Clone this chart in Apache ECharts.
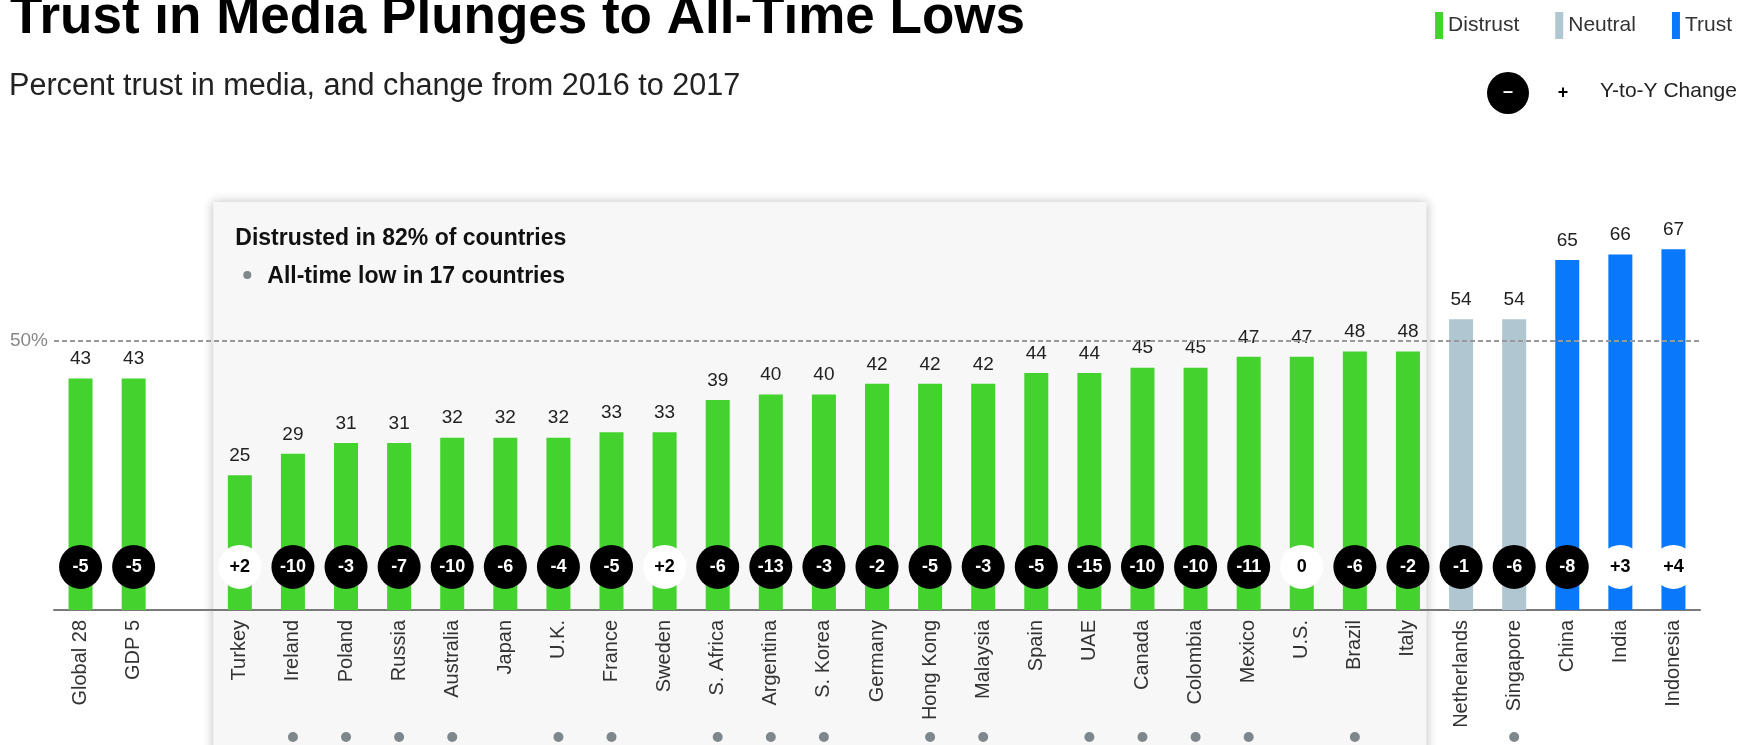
<!DOCTYPE html>
<html>
<head>
<meta charset="utf-8">
<script src="https://cdn.jsdelivr.net/npm/echarts@6/dist/echarts.min.js"></script>
<style>
html,body{margin:0;padding:0;background:#fff;}
#chart{width:1756px;height:745px;}
</style>
</head>
<body>
<div id="chart"></div>
<script>
// ---- data ----
const categories = ['Global 28','GDP 5','','Turkey','Ireland','Poland','Russia','Australia','Japan','U.K.','France','Sweden','S. Africa','Argentina','S. Korea','Germany','Hong Kong','Malaysia','Spain','UAE','Canada','Colombia','Mexico','U.S.','Brazil','Italy','Netherlands','Singapore','China','India','Indonesia'];
const trustValues = [43,43,null,25,29,31,31,32,32,32,33,33,39,40,40,42,42,42,44,44,45,45,47,47,48,48,54,54,65,66,67];
const changeValues = [-5,-5,null,2,-10,-3,-7,-10,-6,-4,-5,2,-6,-13,-3,-2,-5,-3,-5,-15,-10,-10,-11,0,-6,-2,-1,-6,-8,3,4];
const allTimeLow = ['Ireland','Poland','Russia','Australia','U.K.','France','S. Africa','Argentina','S. Korea','Hong Kong','Malaysia','UAE','Canada','Colombia','Mexico','Brazil','Singapore'];
const panelFirst = 'Turkey', panelLast = 'Italy';
const legendNames = ['Distrust','Neutral','Trust'];
const thresholdLine = 50;

// ---- styles ----
const FONT = '"Liberation Sans", Arial, Helvetica, sans-serif';
const colors = {Distrust:'#44d22f', Neutral:'#b0c6d0', Trust:'#0a78fa'};
function groupOf(v){ return v < 50 ? 'Distrust' : (v < 60 ? 'Neutral' : 'Trust'); }

const CIRCLE_LEVEL = 8;      // value-axis level of change bubbles

const barSeries = legendNames.map(name => ({
  name, type:'bar', stack:'all', barWidth:24,
  itemStyle:{color:colors[name]},
  label:{show:true, position:'top', distance:10, fontFamily:FONT, fontSize:19, color:'#222'},
  data: trustValues.map(v => (v != null && groupOf(v) === name) ? v : '-'),
  z:2
}));
barSeries[0].markLine = {
  symbol:'none', silent:true,
  lineStyle:{color:'#999', type:[5,3], width:2},
  label:{show:true, position:'start', formatter:'50%', fontFamily:FONT, fontSize:19, color:'#888', distance:6},
  data:[{yAxis:thresholdLine}]
};

const bubbleData = [];
changeValues.forEach((c,i) => {
  if (c == null) return;
  const pos = c >= 0;
  bubbleData.push({
    value:[i, CIRCLE_LEVEL],
    itemStyle:{color: pos ? '#ffffff' : '#000000', opacity:1},
    label:{show:true, position:'inside', formatter:(c>0?'+':'')+c, color: pos ? '#000' : '#fff', fontFamily:FONT, fontWeight:'bold', fontSize:18}
  });
});

const dotData = allTimeLow.map(n => [categories.indexOf(n), 0]);

const chart = echarts.init(document.getElementById('chart'), null, {renderer:'canvas'});
const gridPos = {left:54, right:56};
const option = {
  animation:false,
  backgroundColor:'#ffffff',
  textStyle:{fontFamily:FONT},
  grid:[
    {left:gridPos.left, right:gridPos.right, top:233, bottom:135, containLabel:false, outerBoundsMode:'none'},
    {left:gridPos.left, right:gridPos.right, top:727, height:20, containLabel:false, outerBoundsMode:'none'}
  ],
  legend:{
    data:legendNames, right:19, top:7, icon:'rect', itemWidth:8, itemHeight:27, itemGap:36,
    textStyle:{fontFamily:FONT, fontSize:21, color:'#333'}, selectedMode:false
  },
  xAxis:[{
    gridIndex:0, type:'category', data:categories, boundaryGap:true,
    axisLine:{show:true, onZero:false, lineStyle:{color:'#7a7a7a', width:2}},
    axisTick:{show:false},
    axisLabel:{interval:0, rotate:90, margin:10, fontFamily:FONT, fontSize:20, color:'#333'},
    splitLine:{show:false}
  },{
    gridIndex:1, type:'category', data:categories, boundaryGap:true, show:false
  }],
  yAxis:[
    {gridIndex:0, type:'value', min:0, max:70, show:false, splitLine:{show:false}},
    {gridIndex:1, type:'value', min:-10, max:10, show:false, splitLine:{show:false}}
  ],
  series:[
    ...barSeries,
    {type:'scatter', name:'change', symbol:'circle', symbolSize:[43,44], data:bubbleData, z:5, silent:true},
    {type:'scatter', name:'low', xAxisIndex:1, yAxisIndex:1, symbol:'circle', symbolSize:10,
     itemStyle:{color:'#7e878b', opacity:1}, data:dotData, z:5, silent:true}
  ],
  graphic:[
    {id:'title', type:'text', left:10, top:-8, z:10, style:{text:'Trust in Media Plunges to All-Time Lows', font:'bold 53px '+FONT, fill:'#000'}},
    {id:'sub', type:'text', left:9, top:71, z:10, style:{text:'Percent trust in media, and change from 2016 to 2017', font:'30.6px '+FONT, fill:'#222'}},
    {id:'lgc', type:'circle', shape:{cx:1508, cy:93, r:21}, style:{fill:'#000'}, z:10},
    {id:'lgm', type:'text', x:1508, y:92, z:11, style:{text:'–', font:'bold 18px '+FONT, fill:'#fff', align:'center', verticalAlign:'middle'}},
    {id:'lgp', type:'text', x:1563, y:93, z:10, style:{text:'+', font:'bold 18px '+FONT, fill:'#000', align:'center', verticalAlign:'middle'}},
    {id:'lgt', type:'text', x:1600, y:91, z:10, style:{text:'Y-to-Y Change', font:'21px '+FONT, fill:'#222', align:'left', verticalAlign:'middle'}}
  ]
};
chart.setOption(option);

// panel behind the country bars, placed from the category axis
const iFirst = categories.indexOf(panelFirst), iLast = categories.indexOf(panelLast);
const xa = chart.convertToPixel({xAxisIndex:0}, iFirst);
const xb = chart.convertToPixel({xAxisIndex:0}, iLast);
const slot = chart.convertToPixel({xAxisIndex:0}, iFirst+1) - xa;
const pLeft = xa - slot/2, pRight = xb + slot/2 - 8;
const pTop = 202;
chart.setOption({
  graphic:[
    {id:'panel', type:'rect', z:-10, shape:{x:pLeft, y:pTop, width:pRight-pLeft, height:745-pTop+20},
     style:{fill:'#f7f7f7', shadowBlur:10, shadowColor:'rgba(0,0,0,0.26)', shadowOffsetX:0, shadowOffsetY:0}},
    {id:'pt1', type:'text', x:pLeft+22, y:239, z:10, style:{text:'Distrusted in 82% of countries', font:'bold 23px '+FONT, fill:'#111', verticalAlign:'middle'}},
    {id:'pdot', type:'circle', shape:{cx:pLeft+34, cy:275, r:4}, style:{fill:'#7e878b'}, z:10},
    {id:'pt2', type:'text', x:pLeft+54, y:277, z:10, style:{text:'All-time low in 17 countries', font:'bold 23px '+FONT, fill:'#111', verticalAlign:'middle'}}
  ]
});
</script>
</body>
</html>
